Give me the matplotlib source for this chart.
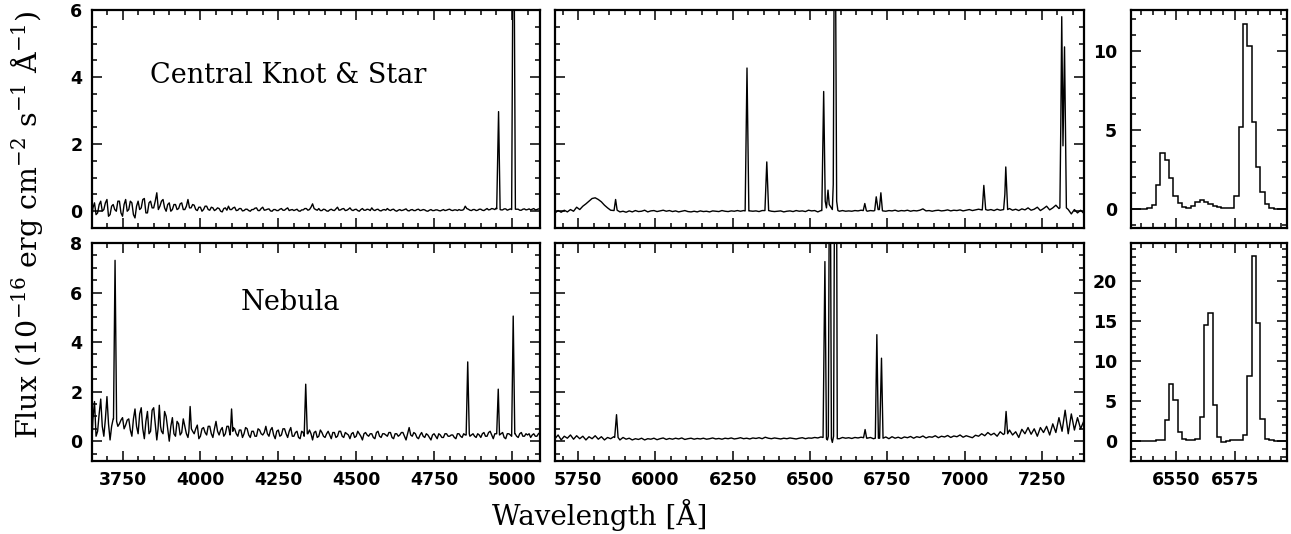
import numpy as np
import matplotlib
matplotlib.use('Agg')
import matplotlib.pyplot as plt
from matplotlib.ticker import MultipleLocator

# ---- data (flux in 1e-16 erg/cm2/s/A) ----

# blue spectra: continuum sampled every 5 A from 3650 A (one row = 100 A)
blue_start, blue_step = 3650.0, 5.0
knot_blue = [
    -0.30, 0.10, 0.25, -0.10, -0.05, 0.20, 0.30, 0.00, 0.05, 0.25, 0.35, -0.15, -0.10, 0.15, 0.20, 0.05, 0.00, 0.30, 0.30, -0.05,
    -0.15, 0.20, 0.35, 0.00, 0.05, 0.30, 0.25, -0.10, -0.20, 0.15, 0.30, 0.05, 0.10, 0.35, 0.38, -0.05, -0.05, 0.25, 0.30, 0.10,
    0.10, 0.30, 0.55, 0.05, 0.15, 0.30, 0.35, 0.10, 0.00, 0.20, 0.25, 0.00, 0.05, 0.20, 0.20, 0.05, 0.08, 0.22, 0.25, 0.05,
    0.05, 0.15, 0.35, 0.10, 0.10, 0.20, 0.18, 0.05, 0.02, 0.12, 0.12, 0.00, 0.05, 0.15, 0.15, 0.05, 0.03, 0.12, 0.10, 0.02,
    0.05, 0.10, 0.08, 0.00, -0.02, 0.08, 0.10, 0.03, 0.15, 0.05, 0.05, 0.10, 0.12, 0.02, 0.03, 0.08, 0.08, 0.01, 0.02, 0.06,
    0.06, 0.02, 0.00, 0.05, 0.05, 0.09, 0.10, 0.02, 0.02, 0.08, 0.12, 0.03, 0.04, 0.06, 0.07, 0.01, 0.00, 0.05, 0.05, 0.02,
    0.02, 0.06, 0.08, 0.03, 0.03, 0.07, 0.10, 0.02, 0.04, 0.05, 0.02, 0.04, 0.06, 0.01, 0.00, 0.04, 0.04, 0.08, 0.08, 0.03,
    0.05, 0.12, 0.22, 0.08, 0.05, 0.03, 0.08, 0.02, 0.02, 0.06, 0.05, 0.01, 0.00, 0.04, 0.06, 0.03, 0.02, 0.07, 0.12, 0.03,
    0.04, 0.07, 0.08, 0.02, 0.03, 0.06, 0.10, 0.04, 0.02, 0.05, 0.06, 0.02, 0.00, 0.05, 0.08, 0.03, 0.03, 0.06, 0.05, 0.02,
    0.10, 0.04, 0.02, 0.05, 0.06, 0.02, 0.01, 0.04, 0.05, 0.03, 0.08, 0.04, 0.02, 0.05, 0.06, 0.02, 0.00, 0.03, 0.05, 0.02,
    0.03, 0.05, 0.07, 0.02, 0.01, 0.04, 0.05, 0.02, 0.02, 0.05, 0.06, 0.02, 0.03, 0.05, 0.04, 0.01, 0.00, 0.03, 0.05, 0.02,
    0.02, 0.04, 0.04, 0.02, 0.01, 0.03, 0.05, 0.02, 0.03, 0.05, 0.06, 0.03, 0.02, 0.04, 0.04, 0.02, 0.05, 0.03, 0.03, 0.05,
    0.15, 0.08, 0.06, 0.03, 0.02, 0.05, 0.05, 0.02, 0.03, 0.06, 0.06, 0.03, 0.02, 0.05, 0.08, 0.04, 0.05, 0.08, 0.07, 0.05,
    0.10, 0.05, 0.08, 0.04, 0.04, 0.07, 0.07, 0.03, 0.05, 0.07, 0.08, 0.04, 0.05, 0.06, 0.06, 0.03, 0.03, 0.06, 0.07, 0.04,
    0.05, 0.07, 0.04, 0.06, 0.08, 0.04, 0.05, 0.07, 0.06,
]
neb_blue = [
    -0.50, 0.90, 1.60, 0.20, 0.40, 1.10, 1.70, 0.60, 0.20, 0.90, 1.80, 0.70, 0.05, 0.60, 0.90, 0.85, 0.80, 0.60, 0.70, 0.85,
    0.95, 0.50, 0.65, 0.85, 0.90, 0.45, 0.20, 0.90, 1.30, 0.60, 0.30, 1.10, 1.35, 0.50, 0.10, 0.80, 1.20, 0.30, 0.40, 1.25,
    1.35, 0.70, 0.05, 0.90, 1.30, 0.40, 0.30, 1.20, 1.00, 0.50, 0.00, 0.60, 0.95, 0.30, 0.20, 0.80, 0.70, 0.25, 0.35, 0.90,
    0.60, 0.30, 0.15, 0.55, 0.70, 0.40, 0.30, 0.50, 0.65, 0.10, 0.20, 0.50, 0.55, 0.35, 0.25, 0.60, 0.60, 0.30, 0.15, 0.50,
    0.80, 0.40, 0.25, 0.45, 0.55, 0.20, 0.30, 0.60, 0.60, 0.25, 0.35, 0.55, 0.50, 0.30, 0.20, 0.45, 0.45, 0.15, 0.30, 0.55,
    0.50, 0.25, 0.15, 0.40, 0.40, 0.20, 0.20, 0.50, 0.45, 0.30, 0.25, 0.35, 0.60, 0.30, 0.20, 0.45, 0.55, 0.25, 0.10, 0.40,
    0.45, 0.20, 0.25, 0.50, 0.50, 0.30, 0.15, 0.40, 0.55, 0.20, 0.20, 0.35, 0.40, 0.15, 0.10, 0.40, 0.35, 0.20, 0.25, 0.30,
    0.45, 0.30, 0.05, 0.35, 0.40, 0.15, 0.20, 0.45, 0.35, 0.20, 0.15, 0.30, 0.40, 0.25, 0.10, 0.35, 0.35, 0.15, 0.20, 0.40,
    0.40, 0.20, 0.15, 0.35, 0.30, 0.25, 0.10, 0.30, 0.35, 0.15, 0.20, 0.40, 0.30, 0.20, 0.05, 0.30, 0.35, 0.25, 0.20, 0.30,
    0.30, 0.15, 0.10, 0.35, 0.40, 0.20, 0.15, 0.30, 0.30, 0.25, 0.20, 0.35, 0.35, 0.15, 0.10, 0.30, 0.30, 0.20, 0.25, 0.35,
    0.35, 0.20, 0.05, 0.30, 0.55, 0.25, 0.20, 0.35, 0.30, 0.15, 0.10, 0.25, 0.35, 0.20, 0.15, 0.30, 0.25, 0.15, 0.05, 0.25,
    0.30, 0.20, 0.10, 0.30, 0.25, 0.15, 0.15, 0.30, 0.30, 0.20, 0.20, 0.25, 0.25, 0.15, 0.10, 0.30, 0.30, 0.20, 0.15, 0.30,
    0.25, 0.30, 0.30, 0.20, 0.25, 0.30, 0.20, 0.15, 0.30, 0.25, 0.15, 0.30, 0.35, 0.20, 0.20, 0.35, 0.40, 0.25, 0.10, 0.30,
    0.30, 0.20, 0.20, 0.30, 0.35, 0.15, 0.10, 0.30, 0.30, 0.25, 0.20, 0.30, 0.30, 0.20, 0.15, 0.30, 0.35, 0.20, 0.20, 0.30,
    0.25, 0.30, 0.15, 0.25, 0.30, 0.20, 0.20, 0.30, 0.35,
]

# red spectra: continuum sampled every 10 A from 5675 A
red_start, red_step = 5675.0, 10.0
knot_red = [
    -0.05, 0.02, -0.03, 0.03, -0.02, 0.05, 0.00, 0.12, 0.05, 0.15,
    0.22, 0.30, 0.38, 0.40, 0.35, 0.28, 0.18, 0.10, 0.03, 0.02,
    0.03, -0.02, 0.00, -0.03, 0.01, -0.02, 0.02, -0.01, 0.00, 0.03,
    -0.02, 0.01, 0.02, -0.01, 0.01, 0.03, 0.00, 0.02, -0.01, 0.01,
    -0.02, 0.00, 0.02, -0.01, -0.02, 0.00, -0.02, 0.01, -0.01, 0.00,
    -0.02, 0.01, 0.00, -0.01, 0.02, 0.00, -0.01, 0.01, 0.00, 0.02,
    0.00, 0.02, 0.02, 0.01, 0.00, 0.01, -0.01, 0.02, 0.02, 0.02,
    0.00, -0.01, 0.00, 0.01, -0.02, 0.00, 0.01, -0.01, 0.02, 0.00,
    0.01, -0.01, 0.03, 0.01, 0.02, -0.02, 0.02, 0.02, 0.05, 0.05,
    0.03, 0.02, 0.00, 0.02, 0.00, 0.01, 0.00, 0.02, 0.01, 0.03,
    0.02, 0.00, 0.02, 0.01, 0.02, 0.02, 0.01, 0.00, 0.02, 0.01,
    0.03, 0.00, 0.02, 0.01, 0.03, 0.00, 0.02, 0.01, 0.03, 0.07,
    0.01, 0.02, 0.00, 0.02, 0.03, 0.01, 0.02, 0.04, 0.01, 0.03,
    0.02, 0.04, 0.01, 0.03, 0.05, 0.02, 0.04, 0.06, 0.04, 0.05,
    0.03, 0.05, 0.02, 0.06, 0.03, 0.05, 0.05, 0.08, 0.03, 0.06,
    0.02, 0.07, 0.04, 0.10, 0.03, 0.06, 0.12, 0.02, 0.08, 0.15,
    0.04, 0.10, 0.18, 0.08, 0.10, 0.10, 0.05, -0.08, 0.05, -0.05,
    0.03, -0.06,
]
neb_red = [
    0.10, 0.25, 0.05, 0.20, 0.12, 0.25, 0.08, 0.22, 0.10, 0.20,
    0.05, 0.18, 0.10, 0.22, 0.08, 0.18, 0.05, 0.15, 0.10, 0.18,
    0.15, 0.05, 0.15, 0.08, 0.12, 0.05, 0.10, 0.07, 0.12, 0.05,
    0.10, 0.08, 0.12, 0.06, 0.10, 0.13, 0.07, 0.11, 0.08, 0.12,
    0.09, 0.13, 0.07, 0.10, 0.12, 0.08, 0.11, 0.09, 0.12, 0.08,
    0.10, 0.13, 0.09, 0.11, 0.08, 0.12, 0.10, 0.13, 0.09, 0.11,
    0.14, 0.10, 0.12, 0.09, 0.13, 0.11, 0.14, 0.10, 0.16, 0.12,
    0.10, 0.13, 0.11, 0.09, 0.12, 0.10, 0.13, 0.11, 0.09, 0.12,
    0.14, 0.10, 0.13, 0.12, 0.15, 0.13, 0.17, 0.15, 0.15, 0.15,
    0.15, 0.12, 0.10, 0.15, 0.12, 0.14, 0.11, 0.15, 0.13, 0.16,
    0.14, 0.12, 0.15, 0.10, 0.12, 0.10, 0.12, 0.17, 0.10, 0.18,
    0.12, 0.16, 0.11, 0.17, 0.14, 0.19, 0.12, 0.18, 0.15, 0.21,
    0.13, 0.18, 0.16, 0.22, 0.14, 0.20, 0.17, 0.23, 0.15, 0.21,
    0.18, 0.25, 0.16, 0.22, 0.18, 0.14, 0.24, 0.20, 0.30, 0.22,
    0.35, 0.25, 0.32, 0.20, 0.38, 0.27, 0.30, 0.45, 0.25, 0.38,
    0.15, 0.48, 0.30, 0.55, 0.28, 0.50, 0.20, 0.55, 0.35, 0.60,
    0.25, 0.70, 0.35, 0.95, 0.40, 1.25, 0.30, 1.10, 0.45, 0.95,
    0.50, 0.80,
]

# emission lines as (wavelength, flux) profile points
knot_blue_lines = [
    [(4951, 0.07), (4957, 2.97), (4962, 0.05)],
    [(4999, 0.05), (5005, 11.0), (5011, 0.06)],
]
neb_blue_lines = [
    [(3721, 0.9), (3726, 7.3), (3731, 0.8)],
    [(3864, 0.5), (3868, 1.45), (3872, 0.6)],
    [(3963, 0.4), (3967, 1.4), (3971, 0.5)],
    [(4096, 0.3), (4100, 1.3), (4104, 0.4)],
    [(4333, 0.2), (4338, 2.3), (4343, 0.3)],
    [(4853, 0.25), (4858, 3.2), (4863, 0.3)],
    [(4951, 0.3), (4956, 2.1), (4960, 0.25)],
    [(4999, 0.2), (5004, 5.05), (5009, 0.3)],
]
knot_red_lines = [
    [(5866, 0.02), (5871, 0.35), (5876, 0.03)],
    [(6290, 0.01), (6296, 4.27), (6302, 0.01)],
    [(6354, 0.02), (6360, 1.47), (6366, 0.02)],
    [(6538, 0.02), (6544, 3.57), (6549, 0.3), (6553, 0.1), (6558, 0.63),
     (6562, 0.2), (6572, 0.05), (6575, 0.8), (6580, 11.7), (6586, 0.3), (6590, 0.02)],
    [(6672, 0.02), (6677, 0.23), (6682, 0.02)],
    [(6709, 0.02), (6714, 0.43), (6720, 0.05), (6724, 0.05), (6729, 0.55), (6734, 0.02)],
    [(7057, 0.04), (7062, 0.77), (7068, 0.05)],
    [(7126, 0.05), (7130, 0.5), (7133, 1.32), (7139, 0.05)],
    [(7308, 0.1), (7311, 2.6), (7314, 5.8), (7318, 1.95), (7323, 4.9), (7329, 0.1)],
]
neb_red_lines = [
    [(5868, 0.15), (5874, 1.07), (5879, 0.15)],
    [(6542, 0.15), (6548, 7.25), (6553, 0.1), (6556, 0.05), (6559, 0.2), (6564, 16.0),
     (6569, 0.1), (6572, -0.05), (6576, 0.2), (6583, 23.2), (6588, 0.1)],
    [(6673, 0.14), (6678, 0.47), (6683, 0.12)],
    [(6711, 0.12), (6716, 4.3), (6721, 0.12), (6725, 0.12), (6731, 3.35), (6736, 0.12)],
    [(7129, 0.3), (7134, 1.2), (7139, 0.3)],
]

# H-alpha / [NII] zoom, binned pixels
zoom_start, zoom_bin = 6530.0, 1.87
knot_zoom = [
    0.0, 0.0, 0.0, 0.02, 0.05, 0.25, 1.5, 3.55, 3.1, 1.95,
    0.85, 0.4, 0.15, 0.08, 0.2, 0.45, 0.6, 0.45, 0.3, 0.17,
    0.1, 0.08, 0.05, 0.05, 0.8, 5.2, 11.7, 10.3, 5.5, 2.65,
    1.1, 0.3, 0.08, 0.02, 0.0, 0.0, 0.0,
]
neb_zoom = [
    0.0, 0.0, 0.0, 0.0, 0.05, 0.05, 0.1, 0.15, 2.6, 7.2,
    5.1, 1.1, 0.3, 0.1, 0.1, 0.2, 3.0, 14.5, 16.0, 4.5,
    0.5, -0.1, 0.05, 0.1, 0.1, 0.15, 0.7, 8.1, 23.2, 14.8,
    2.7, 0.3, 0.1, 0.05, 0.0, 0.0, 0.0,
]


# Merge a regularly sampled continuum with the emission line profiles.
# param start, step: wavelength grid of the continuum
# param flux: continuum values
# param lines: list of profiles, each a list of (wavelength, flux)
# return: sorted wavelength and flux arrays

def build_spectrum(start, step, flux, lines):
    wave = start + step * np.arange(len(flux))
    flux = np.asarray(flux, dtype=float)
    keep = np.ones(len(wave), dtype=bool)
    extra_w, extra_f = [], []
    for prof in lines:
        pw = [p[0] for p in prof]
        pf = [p[1] for p in prof]
        keep &= ~((wave >= pw[0]) & (wave <= pw[-1]))
        extra_w += pw
        extra_f += pf
    w = np.concatenate([wave[keep], extra_w])
    f = np.concatenate([flux[keep], extra_f])
    order = np.argsort(w, kind='stable')
    return w[order], f[order]


# Box with inward ticks on all four sides, PGPLOT look.

def style_axis(ax, xlim, ylim, xmaj, xmin, ymaj, ymin, xlabels, ylabels, ypad=7):
    ax.set_xlim(*xlim)
    ax.set_ylim(*ylim)
    ax.xaxis.set_major_locator(MultipleLocator(xmaj))
    ax.xaxis.set_minor_locator(MultipleLocator(xmin))
    ax.yaxis.set_major_locator(MultipleLocator(ymaj))
    ax.yaxis.set_minor_locator(MultipleLocator(ymin))
    ax.tick_params(which='both', direction='in', top=True, right=True,
                   labelbottom=xlabels, labelleft=ylabels, width=1.1,
                   labelsize=12.5)
    ax.tick_params(which='major', length=7)
    ax.tick_params(which='minor', length=3.5)
    ax.tick_params(axis='x', pad=7)
    ax.tick_params(axis='y', pad=ypad)
    for lab in ax.get_xticklabels() + ax.get_yticklabels():
        lab.set_fontweight('bold')
    for s in ax.spines.values():
        s.set_linewidth(1.6)


def main():
    plt.rcParams['font.family'] = 'DejaVu Sans'
    plt.rcParams['mathtext.fontset'] = 'dejavuserif'

    fig = plt.figure(figsize=(12.91, 5.34), dpi=100)
    W, H = 1291.0, 534.0
    cols = [(92, 540), (555, 1084), (1131, 1287)]
    rows = [(10, 228), (243, 461)]

    def add(col, row):
        x0, x1 = cols[col]
        y0, y1 = rows[row]
        return fig.add_axes([x0 / W, 1 - y1 / H, (x1 - x0) / W, (y1 - y0) / H])

    lw = 1.0
    spectra = [
        (knot_blue, knot_blue_lines, knot_red, knot_red_lines, knot_zoom, (-0.5, 6), (-1.2, 12.6)),
        (neb_blue, neb_blue_lines, neb_red, neb_red_lines, neb_zoom, (-0.8, 8), (-2.5, 24.8)),
    ]
    labels = [('Central Knot & Star', 0.4375, 0.70), ('Nebula', 0.442, 0.725)]
    for r, (fb, lb, fr, lr, fz, ylim, zlim) in enumerate(spectra):
        bottom = (r == 1)

        ax_b = add(0, r)
        w, f = build_spectrum(blue_start, blue_step, fb, lb)
        ax_b.plot(w, f, color='black', lw=lw)
        style_axis(ax_b, (3652, 5090), ylim, 250, 50, 2, 0.5, bottom, True)
        text, tx, ty = labels[r]
        ax_b.text(tx, ty, text, transform=ax_b.transAxes, family='DejaVu Serif',
                  fontsize=19.5, ha='center', va='center')

        ax_r = add(1, r)
        w, f = build_spectrum(red_start, red_step, fr, lr)
        ax_r.plot(w, f, color='black', lw=lw)
        style_axis(ax_r, (5675, 7386), ylim, 250, 50, 2, 0.5, bottom, False)

        ax_z = add(2, r)
        edges = zoom_start + zoom_bin * np.arange(len(fz) + 1)
        ax_z.stairs(fz, edges, color='black', lw=1.1, baseline=None)
        style_axis(ax_z, (6530.5, 6597.5), zlim, 25, 5, 5, 1, bottom, True, ypad=10)

    fig.text(600 / W, 1 - 515 / H, 'Wavelength [Å]', family='DejaVu Serif',
             fontsize=20, ha='center', va='center')
    fig.text(27 / W, 1 - 225 / H,
             r'Flux (10$^{-16}$ erg cm$^{-2}$ s$^{-1}$ Å$^{-1}$)',
             family='DejaVu Serif', fontsize=20.5, rotation=90,
             ha='center', va='center')

    fig.savefig('out.png', dpi=100)
    plt.close(fig)


if __name__ == '__main__':
    main()
